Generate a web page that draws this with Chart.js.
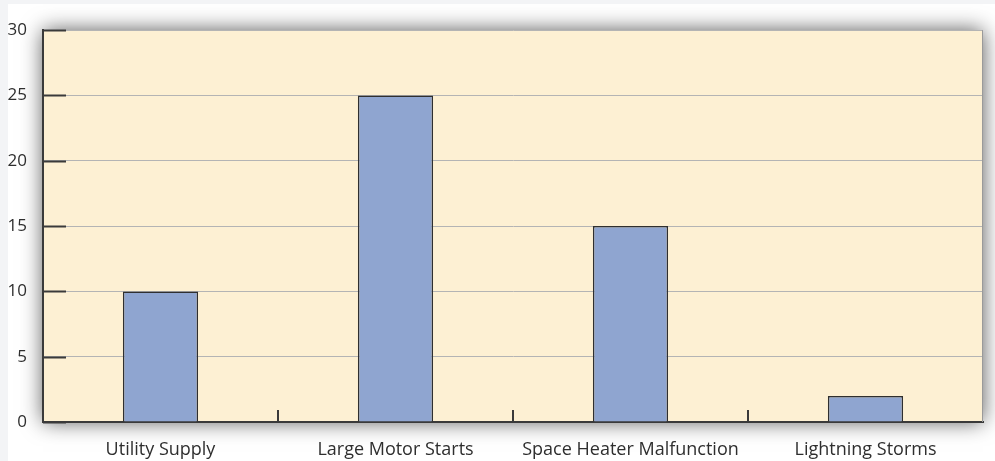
<!DOCTYPE html>
<html>
<head>
<meta charset="utf-8">
<script src="https://cdn.jsdelivr.net/npm/chart.js@4"></script>
<style>
  html, body { margin: 0; padding: 0; background: #f3f4f6; }
  #wrap { position: absolute; left: 8px; top: 4px; width: 987px; height: 457px; background: #fff; }
</style>
</head>
<body>
<div id="wrap"><canvas id="chart" width="987" height="457"></canvas></div>
<script>
const categories = ['Utility Supply', 'Large Motor Starts', 'Space Heater Malfunction', 'Lightning Storms'];
const counts = [10, 25, 15, 2];
const yTicks = [0, 5, 10, 15, 20, 25, 30];

// Plot background with soft shadow, plus the short dark tick marks inside the plot
const plotDecor = {
  id: 'plotDecor',
  beforeDraw(chart) {
    const { ctx, chartArea: a } = chart;
    ctx.save();
    ctx.shadowColor = 'rgba(0,0,0,0.65)';
    ctx.shadowBlur = 20;
    ctx.fillStyle = '#fdf0d3';
    ctx.fillRect(a.left, a.top, a.right - a.left, a.bottom - a.top);
    ctx.restore();
  },
  afterDatasetsDraw(chart) {
    const { ctx, chartArea: a, scales } = chart;
    ctx.save();
    ctx.strokeStyle = '#3a3a3a';
    ctx.lineWidth = 2;
    // y ticks
    yTicks.forEach(v => {
      const y = Math.round(scales.y.getPixelForValue(v)) + 0.5;
      ctx.beginPath();
      ctx.moveTo(a.left, y);
      ctx.lineTo(a.left + 23, y);
      ctx.stroke();
    });
    // category separators on x axis
    for (let i = 1; i < categories.length; i++) {
      const x = Math.round((scales.x.getPixelForValue(i - 1) + scales.x.getPixelForValue(i)) / 2);
      ctx.beginPath();
      ctx.moveTo(x, a.bottom);
      ctx.lineTo(x, a.bottom - 12);
      ctx.stroke();
    }
    // right edge
    ctx.strokeStyle = '#9a9a9a';
    ctx.lineWidth = 1;
    ctx.beginPath();
    ctx.moveTo(a.right - 0.5, a.top);
    ctx.lineTo(a.right - 0.5, a.bottom);
    ctx.stroke();
    ctx.restore();
  }
};

Chart.defaults.font.family = "'Open Sans', sans-serif";
Chart.defaults.color = '#2e2e2e';

new Chart(document.getElementById('chart'), {
  type: 'bar',
  data: {
    labels: categories,
    datasets: [{
      data: counts,
      backgroundColor: '#8fa5d0',
      borderColor: '#2f2f2f',
      borderWidth: 1.5,
      categoryPercentage: 1,
      barPercentage: 0.32
    }]
  },
  options: {
    responsive: false,
    animation: false,
    layout: { padding: { top: 26, right: 12 } },
    plugins: { legend: { display: false }, tooltip: { enabled: false } },
    scales: {
      x: {
        grid: { display: false, drawTicks: false },
        border: { color: '#3a3a3a', width: 2 },
        ticks: { font: { size: 18 }, padding: 17, maxRotation: 0 },
        afterFit(s) { s.height = 39; }
      },
      y: {
        min: 0,
        max: 30,
        grid: { color: '#b4b4b4', lineWidth: 1, drawTicks: false },
        border: { color: '#3a3a3a', width: 2 },
        ticks: { stepSize: 5, font: { size: 17 }, padding: 16 },
        afterFit(s) { s.width = 35; }
      }
    }
  },
  plugins: [plotDecor]
});
</script>
</body>
</html>
